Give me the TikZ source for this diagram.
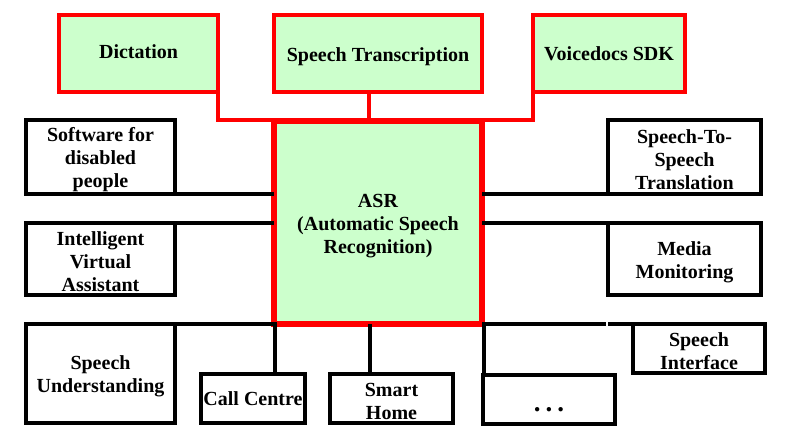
\documentclass[tikz,border=0pt]{standalone}
\usepackage{fontspec}
\setmainfont{Liberation Serif}
\definecolor{asrred}{HTML}{FF0000}
\definecolor{asrgreen}{HTML}{CCFFCC}
\newcommand{\topfill}{\rule{0pt}{20pt}}
\begin{document}
\begin{tikzpicture}[x=1pt,y=-1pt,
  box/.style={draw=black, line width=4pt, inner sep=0pt, outer sep=0pt, align=center,
              font=\fontsize{20}{23}\selectfont\bfseries, fill=white},
  redbox/.style={box, draw=asrred, fill=asrgreen},
  wire/.style={line width=4pt, draw=black, line join=miter},
  redwire/.style={wire, draw=asrred}]
\useasboundingbox[fill=white] (0,0) rectangle (790,441);

% top red boxes
\node[redbox, minimum width=159pt, minimum height=77pt] (dict) at (138.5,53.5) {Dictation\rule[-4pt]{0pt}{0pt}};
\node[redbox, minimum width=208pt, minimum height=77pt] (trans) at (378,53.5) {\topfill Speech Transcription};
\node[redbox, minimum width=152pt, minimum height=77pt] (vdsdk) at (609,53.5) {Voicedocs SDK};

% central ASR box
\node[redbox, line width=6pt, minimum width=208pt, minimum height=203pt] (asr) at (378,222.5)
  {\topfill ASR\\(Automatic Speech\\Recognition)};

% side boxes
\node[box, minimum width=149pt, minimum height=74pt] (soft) at (100.5,157) {\topfill Software for\\disabled\\people};
\node[box, minimum width=153pt, minimum height=74pt] (s2s) at (684.5,157) {\topfill Speech-To-\\Speech\\Translation};
\node[box, minimum width=149pt, minimum height=72pt] (iva) at (100.5,259) {\topfill Intelligent\\Virtual\\Assistant};
\node[box, minimum width=153pt, minimum height=72pt] (media) at (684.5,259) {\topfill Media\\Monitoring};

% bottom boxes
\node[box, minimum width=149pt, minimum height=99pt] (su) at (100.5,373.5) {\topfill Speech\\Understanding};
\node[box, minimum width=132pt, minimum height=49pt] (si) at (699,348.5) {\topfill Speech\\Interface};
\node[box, minimum width=104pt, minimum height=49pt] (cc) at (253,398.5) {Call Centre};
\node[box, minimum width=123pt, minimum height=49pt] (sh) at (391.5,398.5) {\topfill Smart\\Home};
\node[box, minimum width=132pt, minimum height=49pt, text height=25pt, text depth=0pt,
      font=\fontsize{27}{27}\selectfont\bfseries] (dots) at (549,399)
  {.\hspace{5pt}.\hspace{5pt}.};

% red connectors (top)
\coordinate (topbus) at (0,120);
\draw[redwire] (dict.south east) -- (dict.south east |- topbus) -- (vdsdk.south west |- topbus) -- (vdsdk.south west);
\draw[redwire] ([xshift=-9pt]trans.south) -- ([xshift=-9pt]trans.south |- topbus);

% black side connectors
\draw[wire] (soft.south east) -- (soft.south east -| asr.west);
\draw[wire] (asr.east |- s2s.south west) -- (s2s.south west);
\draw[wire] (iva.north east) -- (iva.north east -| asr.west);
\draw[wire] (asr.east |- media.north west) -- (media.north west);

% bottom bus
\coordinate (busend) at (605.5,324);
\coordinate (busstart) at (608,324);
\draw[wire] (su.north east) -- ([xshift=3pt]asr.south west);
\draw[wire] (asr.south east) -- (busend);
\draw[wire] (busstart) -- (si.north west);
\draw[wire] ([xshift=1pt]asr.south west) -- ([xshift=1pt]asr.south west |- cc.north);
\draw[wire] ([xshift=-8pt]asr.south) -- ([xshift=-8pt]asr.south |- sh.north);
\draw[wire] ([xshift=2pt]asr.south east) -- ([xshift=2pt]asr.south east |- dots.north);
\end{tikzpicture}
\end{document}
